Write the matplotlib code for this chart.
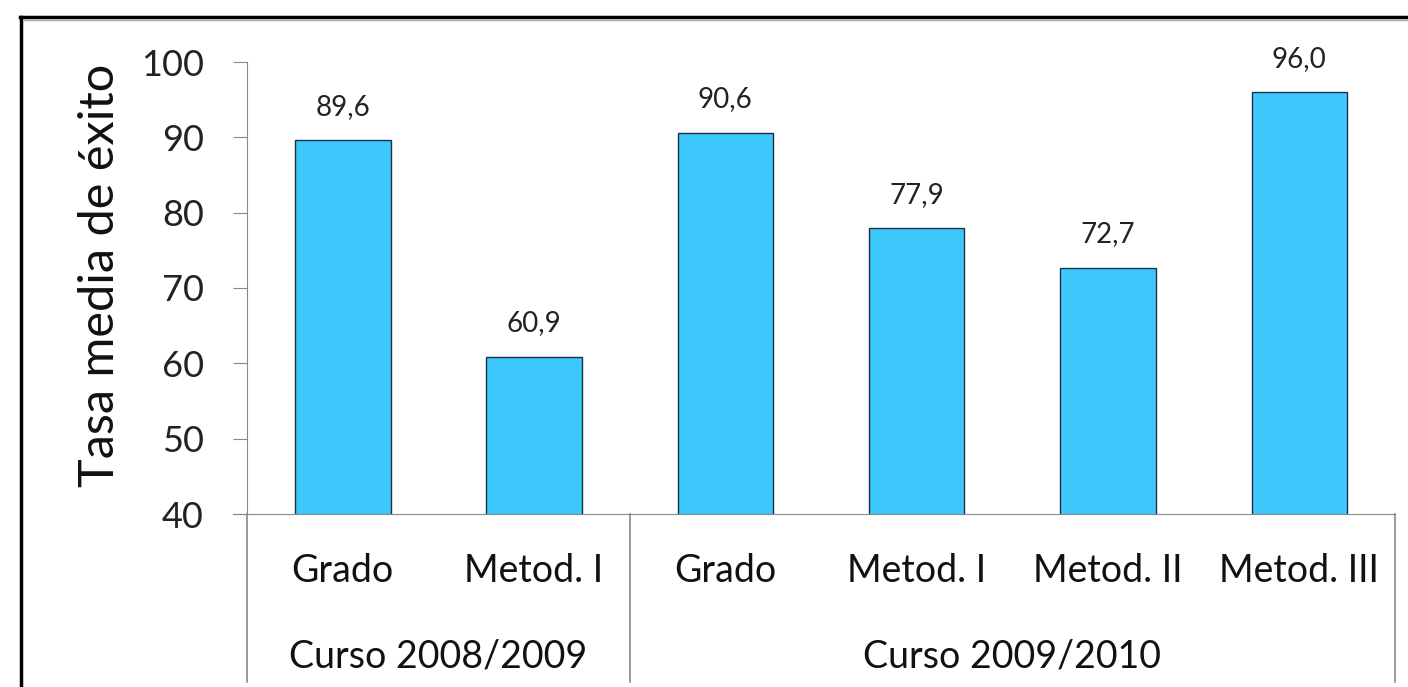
import matplotlib.pyplot as plt
from matplotlib.lines import Line2D

categorias = ["Grado", "Metod. I", "Grado", "Metod. I", "Metod. II", "Metod. III"]
tasas = [89.6, 60.9, 90.6, 77.9, 72.7, 96.0]
cursos = ["Curso 2008/2009", "Curso 2009/2010"]
curso_n = [2, 4]  # categorias por curso

plt.rcParams['font.family'] = ['Lato', 'DejaVu Sans']

fig = plt.figure(figsize=(14.08, 6.87), dpi=100)
W, H = 1408, 687
ax = fig.add_axes([247 / W, 1 - 514 / H, (1395 - 247) / W, (514 - 62) / H])

x = list(range(len(tasas)))
ax.bar(x, tasas, width=0.5, bottom=0, color="#3CC8FA", edgecolor="#1F2F3F", linewidth=1)
ax.set_xlim(-0.5, len(tasas) - 0.5)
ax.set_ylim(40, 100)
ax.set_yticks(range(40, 101, 10))
ax.tick_params(axis='y', labelsize=26, length=10, pad=21, colors="#222222")
ax.tick_params(axis='y', color="#888888")
ax.set_xticks([])
for s in ["top", "right"]:
    ax.spines[s].set_visible(False)
ax.spines["left"].set_color("#888888")
ax.spines["bottom"].set_color("#888888")
ax.spines["bottom"].set_bounds(-0.5 - 14 / 191.3, len(tasas) - 0.5)

for xi, v in zip(x, tasas):
    ax.annotate(f"{v:.1f}".replace(".", ","), (xi, v), xytext=(0, 24), textcoords="offset points",
                ha="center", va="center", fontsize=20, color="#222222")

tr = ax.get_xaxis_transform()
for xi, c in zip(x, categorias):
    ax.text(xi, -0.126, c, transform=tr, ha="center", va="center", fontsize=27, color="#111111")

pos = -0.5
seps = [pos]
for c, n in zip(cursos, curso_n):
    ax.text(pos + n / 2, -0.316, c, transform=tr, ha="center", va="center", fontsize=27, color="#111111")
    pos += n
    seps.append(pos)
for s in seps:
    ax.plot([s, s], [0, -0.372], transform=tr, color="#888888", lw=1.2, clip_on=False)

fig.text(100 / W, 1 - 275 / H, "Tasa media de éxito", rotation=90, ha="center", va="center",
         fontsize=35, color="#111111")

# marco
fig.add_artist(Line2D([20 / W, 1], [1 - 17 / H, 1 - 17 / H], color="black", lw=2.5))
fig.add_artist(Line2D([21 / W, 21 / W], [0, 1 - 17 / H], color="black", lw=2.5))
fig.add_artist(Line2D([23 / W, 1], [1 - 20 / H, 1 - 20 / H], color="#aaaaaa", lw=1))

fig.savefig("out.png", dpi=100)
